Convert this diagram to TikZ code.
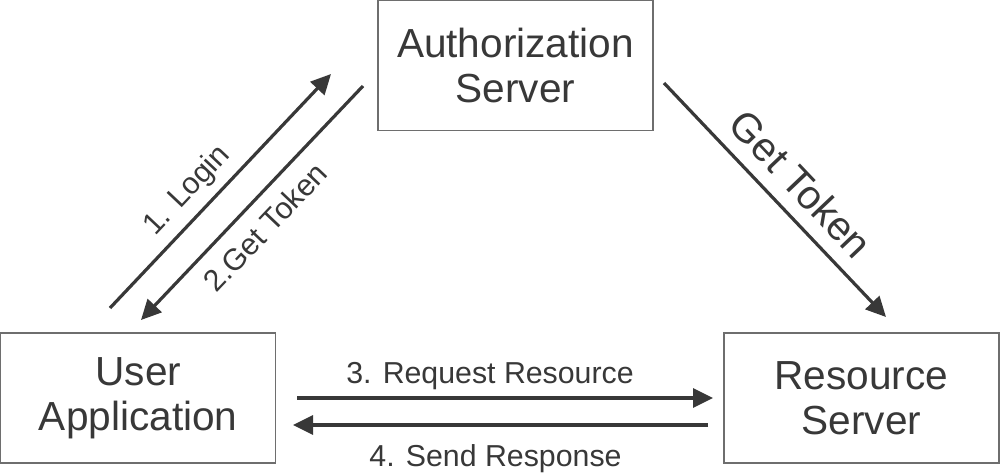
\documentclass[tikz,border=0pt]{standalone}
\usepackage{fontspec}
\setmainfont{Liberation Sans}
\usetikzlibrary{arrows.meta}
\definecolor{ink}{HTML}{383838}
\definecolor{boxline}{HTML}{6E6E6E}
\begin{document}
\begin{tikzpicture}[x=1pt,y=-1pt,
  box/.style={draw=boxline, line width=1.3pt, rectangle, minimum width=275pt,
    minimum height=130pt, text=ink, align=center,
    font=\fontsize{40.6}{45}\selectfont, inner sep=0pt},
  flow/.style={draw=ink, line width=3.2pt, -{Triangle[length=20pt,width=19pt]}},
  lbl/.style={text=ink, font=\fontsize{30.3}{34}\selectfont, outer sep=0pt},
  biglbl/.style={text=ink, font=\fontsize{40.6}{45}\selectfont, outer sep=0pt}
]
\useasboundingbox (0,0) rectangle (1000,472);
\fill[white] (0,0) rectangle (1000,472);

\node[box] (auth) at (515.5,65.5) {Authorization\\Server};
\node[box] (user) at (138.3,398) {User\\Application};
\node[box] (res) at (861.5,398) {Resource\\Server};

\coordinate (loginA) at (110,308);
\coordinate (loginB) at (331,74);
\coordinate (tokA) at (363,86);
\coordinate (tokB) at (141,320);
\coordinate (gtA) at (664,83);
\coordinate (gtB) at (886,317);
\coordinate (reqA) at (297,398);
\coordinate (reqB) at (713,398);
\coordinate (rspA) at (708,425);
\coordinate (rspB) at (293,425);

\draw[flow] (loginA) -- node[lbl, sloped, above, pos=0.43, inner sep=10pt] (l1) {1. Login} (loginB);
\draw[flow] (tokA) -- node[lbl, sloped, below, pos=0.526, inner sep=15pt] (l2) {2.Get Token} (tokB);
\draw[flow] (gtA) -- node[biglbl, sloped, above, pos=0.52, inner sep=15pt] (l5) {Get Token} (gtB);
\draw[flow] (reqA) -- node[lbl, above, inner sep=8.5pt, xshift=-15pt] (l3) {3. Request Resource} (reqB);
\draw[flow] (rspA) -- node[lbl, below, inner sep=20pt, xshift=-5pt] (l4) {4. Send Response} (rspB);
\end{tikzpicture}
\end{document}
